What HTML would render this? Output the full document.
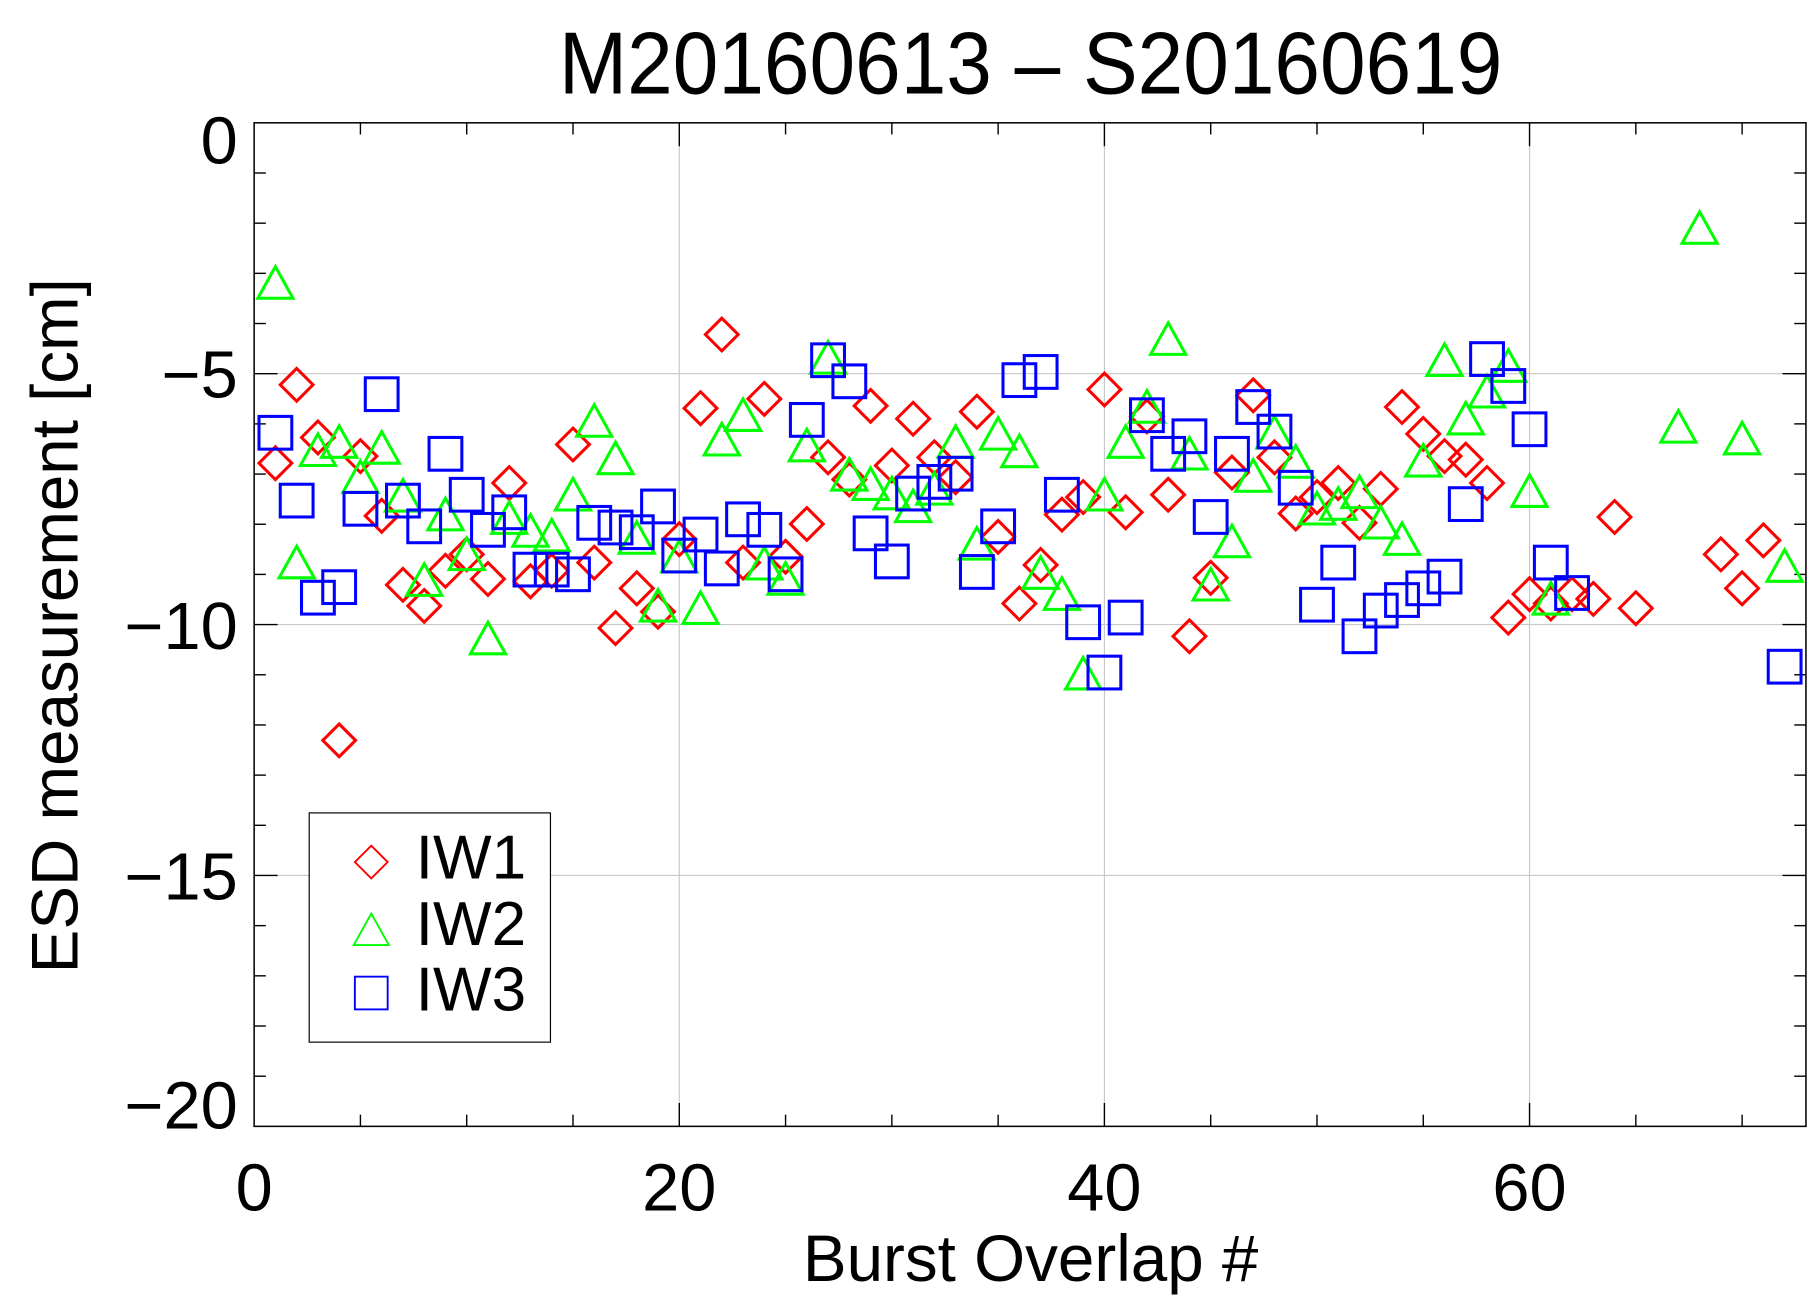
<!DOCTYPE html>
<html><head><meta charset="utf-8"><style>
html,body{margin:0;padding:0;background:#fff;}
svg{display:block;}
text{font-family:"Liberation Sans",sans-serif;fill:#000;}
</style></head><body>
<svg id="s" width="1820" height="1310" viewBox="0 0 1554 1120" preserveAspectRatio="none" xmlns="http://www.w3.org/2000/svg">
<rect width="1554" height="1120" fill="#fff"/>
<g id="grid" stroke="#c8c8c8" stroke-width="1"></g>
<g id="ticks" stroke="#000" stroke-width="1.2"></g>
<rect x="217" y="105" width="1325" height="858" fill="none" stroke="#000" stroke-width="1.3"/>
<text transform="translate(880,80) scale(1,1.08)" font-size="70" text-anchor="middle">M20160613 – S20160619</text>
<g font-size="57" text-anchor="end">
<text x="203" y="140">0</text>
<text x="203" y="340">−5</text>
<text x="203" y="555">−10</text>
<text x="203" y="769">−15</text>
<text x="203" y="965">−20</text>
</g>
<g font-size="57" text-anchor="middle">
<text x="217" y="1035">0</text>
<text x="580" y="1035">20</text>
<text x="943" y="1035">40</text>
<text x="1306" y="1035">60</text>
</g>
<text x="880" y="1095" font-size="56" text-anchor="middle">Burst Overlap #</text>
<text transform="translate(66,535) rotate(-90)" font-size="56" text-anchor="middle">ESD measurement [cm]</text>
<g id="pts" fill="none" stroke-width="2.6"></g>
<rect x="264" y="695" width="206" height="196" fill="#fff" stroke="#000" stroke-width="1"/>
<g fill="none" stroke-width="1.6">
<polygon points="317,723 331,737 317,751 303,737" stroke="#f00"/>
<polygon points="317,781 332,808 302,808" stroke="#0f0"/>
<rect x="303" y="835" width="28" height="28" stroke="#00f"/>
</g>
<g font-size="53">
<text x="355" y="751">IW1</text>
<text x="355" y="808">IW2</text>
<text x="355" y="864">IW3</text>
</g>
</svg>
<script>
var ns="http://www.w3.org/2000/svg";
function el(p,t,a){var e=document.createElementNS(ns,t);for(var k in a)e.setAttribute(k,a[k]);p.appendChild(e);return e;}
var X=function(i){return 217+18.15*i;};
var grid=document.getElementById('grid'),ticks=document.getElementById('ticks'),pts=document.getElementById('pts');
[20,40,60].forEach(function(v){el(grid,'line',{x1:X(v),x2:X(v),y1:105,y2:963});});
[-5,-10,-15].forEach(function(v){var y=105-42.9*v;el(grid,'line',{x1:217,x2:1542,y1:y,y2:y});});
for(var v=5;v<73;v+=5){var L=(v%20==0)?20:10;el(ticks,'line',{x1:X(v),x2:X(v),y1:963,y2:963-L});el(ticks,'line',{x1:X(v),x2:X(v),y1:105,y2:105+L});}
for(var v=1;v<20;v++){var y=105+42.9*v;var L=(v%5==0)?20:10;el(ticks,'line',{x1:217,x2:217+L,y1:y,y2:y});el(ticks,'line',{x1:1542,x2:1542-L,y1:y,y2:y});}
var r1={1:396,2:329,3:374,4:633,5:390,6:441,7:500,8:518,9:488,10:474,11:495,12:413,13:497,14:488,15:380,16:481,17:537,18:503,19:523,20:461,21:349,22:286,23:481,24:341,25:476,26:448,27:391,28:410,29:347,30:398,31:358,32:391,33:408,34:352,35:459,36:516,37:483,38:440,39:425,40:333,41:438,42:356,43:423,44:544,45:494,46:404,47:338,48:391,49:439,50:425,51:413,52:447,53:418,54:348,55:371,56:390,57:393,58:413,59:528,60:508,61:516,62:508,63:512,64:442,65:520,69:474,70:503,71:462};
var g2={1:244,2:483,3:387,4:380,5:410,6:385,7:426,8:498,9:442,10:476,11:548,12:445,13:456,14:460,15:425,16:362,17:394,18:462,19:520,20:478,21:522,22:378,23:357,24:484,25:497,26:383,27:308,28:408,29:416,30:424,31:435,32:420,33:380,34:467,35:373,36:388,37:492,38:510,39:578,40:425,41:380,42:350,43:292,44:390,45:502,46:465,47:409,48:372,49:397,50:437,51:433,52:423,53:449,54:463,55:396,56:310,57:360,58:337,59:315,60:422,61:514,67:367,68:197,70:377,72:486};
var b3={1:370,2:428,3:511,4:502,5:435,6:337,7:428,8:450,9:388,10:423,11:453,12:438,13:487,14:487,15:491,16:447,17:451,18:455,19:433,20:475,21:457,22:486,23:444,24:453,25:491,26:359,27:308,28:326,29:456,30:480,31:422,32:412,33:405,34:489,35:450,36:325,37:318,38:423,39:532,40:575,41:528,42:355,43:388,44:373,45:442,46:388,47:348,48:369,49:417,50:517,51:481,52:544,53:522,54:513,55:503,56:493,57:431,58:307,59:330,60:367,61:481,62:507,72:570};
for(var k in r1){var x=X(+k),y=r1[k];el(pts,'polygon',{points:(x)+','+(y-14)+' '+(x+14)+','+y+' '+x+','+(y+14)+' '+(x-14)+','+y,stroke:'#f00'});}
for(var k in g2){var x=X(+k),y=g2[k];el(pts,'polygon',{points:x+','+(y-16)+' '+(x+15)+','+(y+11)+' '+(x-15)+','+(y+11),stroke:'#0f0'});}
for(var k in b3){var x=X(+k),y=b3[k];el(pts,'rect',{x:x-14,y:y-14,width:28,height:28,stroke:'#00f'});}
</script>
</body></html>
